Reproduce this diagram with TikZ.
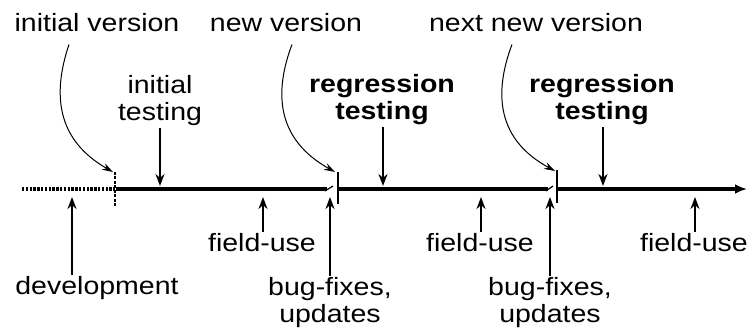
\documentclass[tikz,border=0pt]{standalone}
\usepackage{fontspec}
\setmainfont[FakeStretch=1.14]{Liberation Sans}
\usetikzlibrary{arrows.meta}
\begin{document}
\begin{tikzpicture}[x=1pt,y=-1pt,
  lbl/.style={font=\fontsize{25}{27}\selectfont, inner sep=2pt, align=center},
  blbl/.style={lbl, font=\fontsize{25}{27}\selectfont\bfseries},
  tline/.style={line width=3.6pt},
  pointer/.style={line width=2pt, -{Stealth[length=12pt,width=9pt]}},
  curvearrow/.style={line width=1pt, -{Stealth[length=11pt,width=7pt]}},
  tickmark/.style={line width=1.1pt}]
\useasboundingbox (0,0) rectangle (748,331);

% labels
\node[lbl, anchor=base] (iv) at (97,32) {initial version};
\node[lbl, anchor=base] (nv) at (286,32) {new version};
\node[lbl, anchor=base] (nnv) at (536,32) {next new version};
\node[lbl] (it) at (160,101) {initial\\testing};
\node[blbl] (rt1) at (382,100) {regression\\testing};
\node[blbl] (rt2) at (602,100) {regression\\testing};
\node[lbl, anchor=base] (dev) at (97,295) {development};
\node[lbl, anchor=base] (fu1) at (262,252) {field-use};
\node[lbl, anchor=base] (fu2) at (480,252) {field-use};
\node[lbl, anchor=base] (fu3) at (694,252) {field-use};
\node[lbl] (bf1) at (330,303) {bug-fixes,\\updates};
\node[lbl] (bf2) at (550,303) {bug-fixes,\\updates};

% timeline points
\coordinate (d0) at (22,189);
\coordinate (v1) at (115,189);
\coordinate (v2) at (338,189);
\coordinate (v3) at (557,189);
\coordinate (tend) at (747,189);

% timeline
\draw[tline, dash pattern=on 2.4pt off 1.4pt] (d0) -- (v1);
\draw[tline] ([xshift=1pt]v1) -- ([xshift=-11pt]v2);
\draw[line width=1.2pt] ([xshift=-13pt,yshift=-2pt]v2) -- ([xshift=-5pt,yshift=3pt]v2);
\draw[tline] ([xshift=1pt]v2) -- ([xshift=-9pt]v3);
\draw[line width=1.2pt] ([xshift=-11pt,yshift=-2pt]v3) -- ([xshift=-4pt,yshift=3pt]v3);
\draw[tline, -{Latex[length=12pt,width=10pt]}] ([xshift=1pt]v3) -- (tend);

% version ticks
\draw[tickmark, dash pattern=on 3pt off 1.5pt] ([yshift=17pt]v1) -- ([yshift=-17pt]v1);
\draw[tickmark] ([yshift=17pt]v2) -- ([yshift=-15pt]v2);
\draw[tickmark] ([yshift=19pt]v3) -- ([yshift=-14pt]v3);

% arrow targets
\coordinate (k1) at (113,172);
\coordinate (k2) at (335,172);
\coordinate (k3) at (555,171);
\coordinate (pit) at (160,186);
\coordinate (prt1) at (383,186);
\coordinate (prt2) at (603,186);
\coordinate (pdev) at (72,197);
\coordinate (pfu1) at (263,197);
\coordinate (pfu2) at (481,197);
\coordinate (pfu3) at (695,197);
\coordinate (pbf1) at (330,197);
\coordinate (pbf2) at (550,197);

% curved pointers from version labels
\draw[curvearrow] ([xshift=-28pt,yshift=-10pt]iv.south) .. controls (52,95) and (57,140) .. (k1);
\draw[curvearrow] ([xshift=6pt,yshift=-10pt]nv.south) .. controls (273,95) and (278,140) .. (k2);
\draw[curvearrow] ([xshift=-24pt,yshift=-10pt]nnv.south) .. controls (493,95) and (498,140) .. (k3);

% straight pointers
\draw[pointer] (it.south -| pit) -- (pit);
\draw[pointer] (rt1.south -| prt1) -- (prt1);
\draw[pointer] (rt2.south -| prt2) -- (prt2);
\draw[pointer] (dev.north -| pdev) -- (pdev);
\draw[pointer] (fu1.north -| pfu1) -- (pfu1);
\draw[pointer] (fu2.north -| pfu2) -- (pfu2);
\draw[pointer] (fu3.north -| pfu3) -- (pfu3);
\draw[pointer] (bf1.north -| pbf1) -- (pbf1);
\draw[pointer] (bf2.north -| pbf2) -- (pbf2);
\end{tikzpicture}
\end{document}
